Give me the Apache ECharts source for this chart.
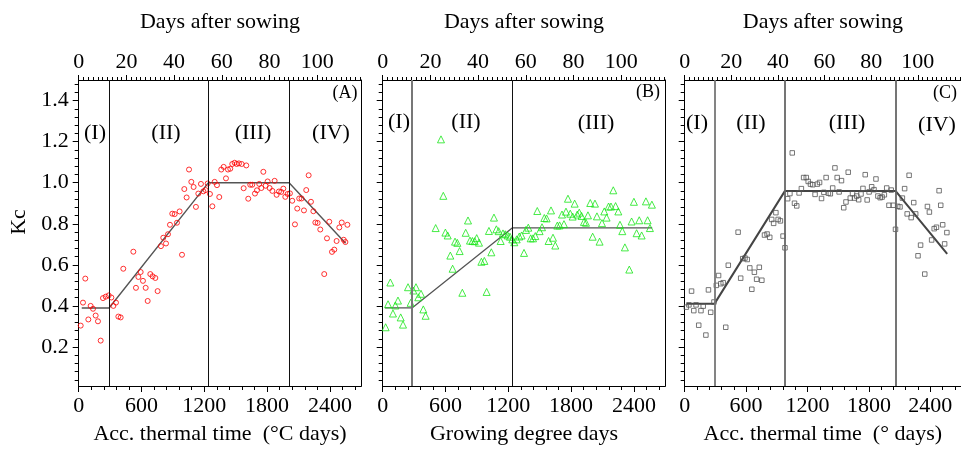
<!DOCTYPE html>
<html><head><meta charset="utf-8">
<script src="https://cdn.jsdelivr.net/npm/echarts@6/dist/echarts.min.js"></script>
<style>html,body{margin:0;padding:0;background:#fff}#c{width:961px;height:450px}</style>
</head><body><div id="c"></div>
<script>
// ---- tick labels ----
const xTickVals = [0, 600, 1200, 1800, 2400];
const yTickVals = [0.2, 0.4, 0.6, 0.8, 1.0, 1.2, 1.4];
const dayTickVals = [0, 20, 40, 60, 80, 100];
const topTitle = 'Days after sowing';
const bottomTitles = ['Acc. thermal time  (°C days)', 'Growing degree days', 'Acc. thermal time  (° days)'];
const yTitle = 'Kc';
const panelTags = ['(A)', '(B)', '(C)'];
const phaseNamesA = ['(I)', '(II)', '(III)', '(IV)'];
const phaseNamesB = ['(I)', '(II)', '(III)'];
const phaseNamesC = ['(I)', '(II)', '(III)', '(IV)'];

// ---- panel A: observed Kc (red circles) ----
const aX = [19,41,63,92,114,137,162,184,210,232,258,286,312,331,356,379,401,426,522,547,570,592,614,640,659,684,706,732,754,786,808,834,853,872,894,917,939,964,987,1009,1031,1054,1076,1098,1120,1143,1168,1191,1213,1232,1254,1277,1299,1321,1343,1362,1385,1407,1426,1448,1467,1490,1509,1531,1557,1576,1601,1620,1639,1658,1684,1703,1725,1745,1764,1786,1805,1824,1850,1872,1891,1913,1935,1955,1974,1996,2018,2040,2066,2088,2107,2129,2152,2174,2197,2219,2242,2261,2283,2308,2346,2372,2394,2420,2442,2464,2490,2513,2532,2548,2567];
const aY = [0.304,0.416,0.533,0.334,0.400,0.386,0.353,0.325,0.231,0.438,0.445,0.451,0.441,0.400,0.416,0.348,0.344,0.581,0.664,0.488,0.541,0.565,0.522,0.488,0.424,0.555,0.544,0.536,0.472,0.691,0.732,0.704,0.749,0.795,0.849,0.847,0.805,0.860,0.649,0.969,0.928,1.064,1.004,0.979,0.882,0.947,0.994,0.958,0.964,0.996,0.945,0.885,1.004,0.988,0.930,1.064,1.077,1.021,1.064,1.068,1.091,1.097,1.091,1.094,1.091,0.973,1.084,0.922,0.990,0.990,0.947,0.963,0.994,0.974,1.053,0.985,1.006,0.974,0.960,1.009,0.941,0.957,0.955,0.971,0.931,0.945,0.948,0.912,0.797,0.874,0.923,0.923,0.865,0.964,1.036,0.907,0.861,0.806,0.804,0.772,0.555,0.729,0.810,0.663,0.674,0.716,0.782,0.806,0.722,0.711,0.795];
const fitAX = [29, 290, 1240, 2010, 2550];
const fitAY = [0.39, 0.39, 1.0, 1.0, 0.705];
const phaseA = [290, 1240, 2010];

// ---- panel B: observed Kc (green triangles) ----
const bX = [28,51,73,98,121,146,172,194,242,267,293,318,340,366,388,410,506,557,579,599,621,646,668,691,713,735,761,793,815,834,857,879,898,920,943,971,993,1015,1038,1063,1086,1108,1127,1149,1171,1194,1216,1238,1257,1280,1305,1327,1350,1369,1391,1414,1436,1458,1477,1499,1522,1544,1566,1585,1608,1627,1649,1668,1690,1713,1732,1751,1770,1792,1815,1834,1859,1878,1900,1923,1942,1961,1983,2006,2028,2047,2072,2095,2117,2139,2158,2181,2203,2225,2251,2267,2289,2314,2356,2378,2400,2426,2451,2474,2515,2531,2553,2572];
const bY = [0.296,0.408,0.514,0.363,0.402,0.426,0.344,0.309,0.491,0.415,0.475,0.491,0.442,0.459,0.383,0.352,0.779,1.211,0.936,0.757,0.743,0.645,0.581,0.713,0.707,0.667,0.464,0.756,0.816,0.718,0.716,0.715,0.730,0.708,0.615,0.619,0.468,0.765,0.661,0.830,0.773,0.764,0.716,0.753,0.749,0.743,0.737,0.724,0.710,0.724,0.738,0.743,0.658,0.770,0.781,0.729,0.729,0.740,0.862,0.764,0.783,0.828,0.826,0.716,0.865,0.732,0.694,0.791,0.792,0.845,0.798,0.859,0.922,0.849,0.835,0.898,0.845,0.854,0.838,0.809,0.805,0.841,0.901,0.737,0.898,0.836,0.713,0.803,0.860,0.830,0.884,0.884,0.963,0.886,0.860,0.795,0.764,0.685,0.577,0.811,0.907,0.754,0.817,0.743,0.909,0.817,0.779,0.893];
const fitBX = [22, 280, 1240, 2575];
const fitBY = [0.39, 0.39, 0.78, 0.78];
const phaseB = [280, 1240];

// ---- panel C: observed Kc (grey squares) ----
const cX = [16,41,67,89,111,137,159,181,207,232,254,286,309,331,353,376,401,426,522,547,567,589,611,636,656,681,703,729,754,780,805,831,850,869,891,913,935,961,980,1006,1028,1051,1073,1095,1118,1140,1162,1188,1207,1229,1251,1274,1296,1318,1337,1360,1382,1404,1423,1446,1468,1490,1509,1532,1554,1576,1598,1618,1640,1659,1681,1700,1723,1742,1764,1783,1802,1827,1850,1869,1888,1910,1929,1951,1974,1996,2018,2037,2060,2082,2104,2127,2149,2174,2193,2213,2238,2257,2280,2305,2346,2372,2391,2413,2438,2460,2486,2502,2521,2540,2562];
const cY = [0.394,0.405,0.472,0.377,0.405,0.306,0.377,0.399,0.258,0.478,0.369,0.419,0.500,0.548,0.508,0.513,0.296,0.598,0.759,0.535,0.630,0.633,0.626,0.585,0.481,0.564,0.530,0.588,0.525,0.745,0.750,0.734,0.821,0.802,0.854,0.821,0.814,0.740,0.683,0.922,0.947,1.145,0.900,0.887,0.950,0.971,1.025,1.025,1.006,0.993,0.990,0.943,0.993,1.001,0.923,0.953,1.025,0.949,0.946,0.974,1.072,1.025,0.955,1.010,0.878,0.906,1.051,0.925,0.947,0.925,0.935,0.917,0.945,0.972,1.039,0.916,0.955,0.980,0.966,1.018,0.935,0.927,0.930,0.941,0.974,0.890,0.964,0.890,0.773,0.885,0.882,0.925,0.971,0.848,1.036,0.830,0.903,0.848,0.644,0.696,0.555,0.884,0.857,0.721,0.776,0.783,0.961,0.890,0.795,0.702,0.757];
const fitCX = [20, 290, 980, 2060, 2565];
const fitCY = [0.41, 0.41, 0.96, 0.96, 0.653];
const phaseC = [290, 980, 2060];

// ---- layout / style ----
const FONT = "'Liberation Serif','Times New Roman',serif";
const GRID_LEFT = [78.7, 382.7, 684.7];
const GRID_W = 282.6, GRID_TOP = 80, GRID_H = 313;
const X_MAX = 2700, Y_MIN = 0.01, Y_MAX = 1.5, DAY_MAX = 118.5;

function range(a, b, s, dec) { const r = []; for (let v = a; v <= b + 1e-9; v += s) r.push(+v.toFixed(dec)); return r; }
const xMinor = range(0, 2640, 120, 0);
const yMinor = range(0.04, 1.48, 0.04, 2);
const dayMinor = range(0, 118, 2, 0);

const zip = (xs, ys) => xs.map((x, i) => [x, ys[i]]);
const txt = { fontFamily: FONT, fontSize: 22, color: '#000' };

const grids = [], xAxes = [], yAxes = [], series = [];
const panels = [
  { x: aX, y: aY, fx: fitAX, fy: fitAY, ph: phaseA, sym: 'circle', size: 5, col: '#ff0000',
    fitStyle: { color: '#555', width: 1.4 }, phStyles: [{ color: '#111', width: 1 }, { color: '#111', width: 1 }, { color: '#111', width: 1 }] },
  { x: bX, y: bY, fx: fitBX, fy: fitBY, ph: phaseB, sym: 'triangle', size: 7, col: '#19e619',
    fitStyle: { color: '#555', width: 1.3 }, phStyles: [{ color: '#777', width: 2 }, { color: '#111', width: 1 }] },
  { x: cX, y: cY, fx: fitCX, fy: fitCY, ph: phaseC, sym: 'rect', size: 4.5, col: '#555',
    fitStyle: { color: '#444', width: 2 }, phStyles: [{ color: '#777', width: 1.8 }, { color: '#666', width: 1.8 }, { color: '#666', width: 1.8 }] }
];

panels.forEach((p, g) => {
  grids.push({ left: GRID_LEFT[g], top: GRID_TOP, width: GRID_W, height: GRID_H, containLabel: false });
  const xi = xAxes.length, yi = yAxes.length;
  // bottom major
  xAxes.push({ gridIndex: g, type: 'value', position: 'bottom', min: 0, max: X_MAX,
    axisLine: { show: true, onZero: false, lineStyle: { color: '#000', width: 1 } },
    axisTick: { show: true, customValues: xTickVals, length: 6, lineStyle: { color: '#000' } },
    axisLabel: { show: true, customValues: xTickVals, margin: 9, formatter: v => String(Math.round(v)), ...txt },
    splitLine: { show: false },
    name: bottomTitles[g], nameLocation: 'middle', nameGap: 37, nameTextStyle: { ...txt } });
  // bottom minor
  xAxes.push({ gridIndex: g, type: 'value', position: 'bottom', min: 0, max: X_MAX,
    axisLine: { show: false, onZero: false },
    axisTick: { show: true, customValues: xMinor, length: 4, lineStyle: { color: '#000' } },
    axisLabel: { show: false }, splitLine: { show: false } });
  // top major (days)
  xAxes.push({ gridIndex: g, type: 'value', position: 'top', min: 0, max: DAY_MAX,
    axisLine: { show: true, onZero: false, lineStyle: { color: '#000', width: 1 } },
    axisTick: { show: true, customValues: dayTickVals, length: 5, lineStyle: { color: '#000' } },
    axisLabel: { show: true, customValues: dayTickVals, margin: 7, formatter: v => String(Math.round(v)), ...txt },
    splitLine: { show: false },
    name: topTitle, nameLocation: 'middle', nameGap: 47, nameTextStyle: { ...txt } });
  // top minor
  xAxes.push({ gridIndex: g, type: 'value', position: 'top', min: 0, max: DAY_MAX,
    axisLine: { show: false, onZero: false },
    axisTick: { show: true, customValues: dayMinor, length: 3, lineStyle: { color: '#000' } },
    axisLabel: { show: false }, splitLine: { show: false } });
  // left major
  yAxes.push({ gridIndex: g, type: 'value', position: 'left', min: Y_MIN, max: Y_MAX,
    axisLine: { show: true, onZero: false, lineStyle: { color: '#000', width: 1 } },
    axisTick: { show: true, customValues: yTickVals, length: 6, lineStyle: { color: '#000' } },
    axisLabel: { show: g === 0, customValues: yTickVals, margin: 10, formatter: v => (+v).toFixed(1), ...txt },
    splitLine: { show: false } });
  // left minor
  yAxes.push({ gridIndex: g, type: 'value', position: 'left', min: Y_MIN, max: Y_MAX,
    axisLine: { show: false, onZero: false },
    axisTick: { show: true, customValues: yMinor, length: 4, lineStyle: { color: '#000' } },
    axisLabel: { show: false }, splitLine: { show: false } });
  // right frame
  yAxes.push({ gridIndex: g, type: 'value', position: 'right', min: Y_MIN, max: Y_MAX,
    axisLine: { show: true, onZero: false, lineStyle: { color: '#000', width: 1 } },
    axisTick: { show: false }, axisLabel: { show: false }, splitLine: { show: false } });

  series.push({ type: 'line', xAxisIndex: xi, yAxisIndex: yi, data: zip(p.fx, p.fy),
    symbol: 'none', lineStyle: p.fitStyle, z: 3, animation: false, silent: true,
    markLine: { symbol: ['none', 'none'], silent: true, animation: false, label: { show: false },
      data: p.ph.map((v, k) => ({ xAxis: v, lineStyle: { type: 'solid', ...p.phStyles[k] } })) } });
  series.push({ type: 'scatter', xAxisIndex: xi, yAxisIndex: yi, data: zip(p.x, p.y),
    symbol: p.sym, symbolSize: p.size, z: 4, animation: false,
    itemStyle: { color: 'rgba(255,255,255,0)', borderColor: p.col, borderWidth: 1 } });
});

// text annotations
const ann = (t, x, y, size) => ({ type: 'text', x: x, y: y, style: { text: t, fontFamily: FONT, fontSize: size, fill: '#000', align: 'center', verticalAlign: 'middle' } });
const graphics = [
  { type: 'text', x: 19, y: 222, rotation: Math.PI / 2, style: { text: yTitle, fontFamily: FONT, fontSize: 22, fill: '#000', align: 'center', verticalAlign: 'middle' } },
  ann(panelTags[0], 345, 93, 18), ann(panelTags[1], 648, 92, 18), ann(panelTags[2], 945, 93, 18),
  ann(phaseNamesA[0], 95, 133, 22), ann(phaseNamesA[1], 166, 133, 22), ann(phaseNamesA[2], 253, 133, 22), ann(phaseNamesA[3], 331, 133, 22),
  ann(phaseNamesB[0], 399, 122, 22), ann(phaseNamesB[1], 466, 122, 22), ann(phaseNamesB[2], 596, 123, 22),
  ann(phaseNamesC[0], 697, 123, 22), ann(phaseNamesC[1], 751, 123, 22), ann(phaseNamesC[2], 847, 123, 22), ann(phaseNamesC[3], 937, 125, 22)
];

const chart = echarts.init(document.getElementById('c'), null, { renderer: 'canvas' });
chart.setOption({
  backgroundColor: '#fff', animation: false,
  grid: grids, xAxis: xAxes, yAxis: yAxes, series: series, graphic: graphics
});
</script></body></html>
